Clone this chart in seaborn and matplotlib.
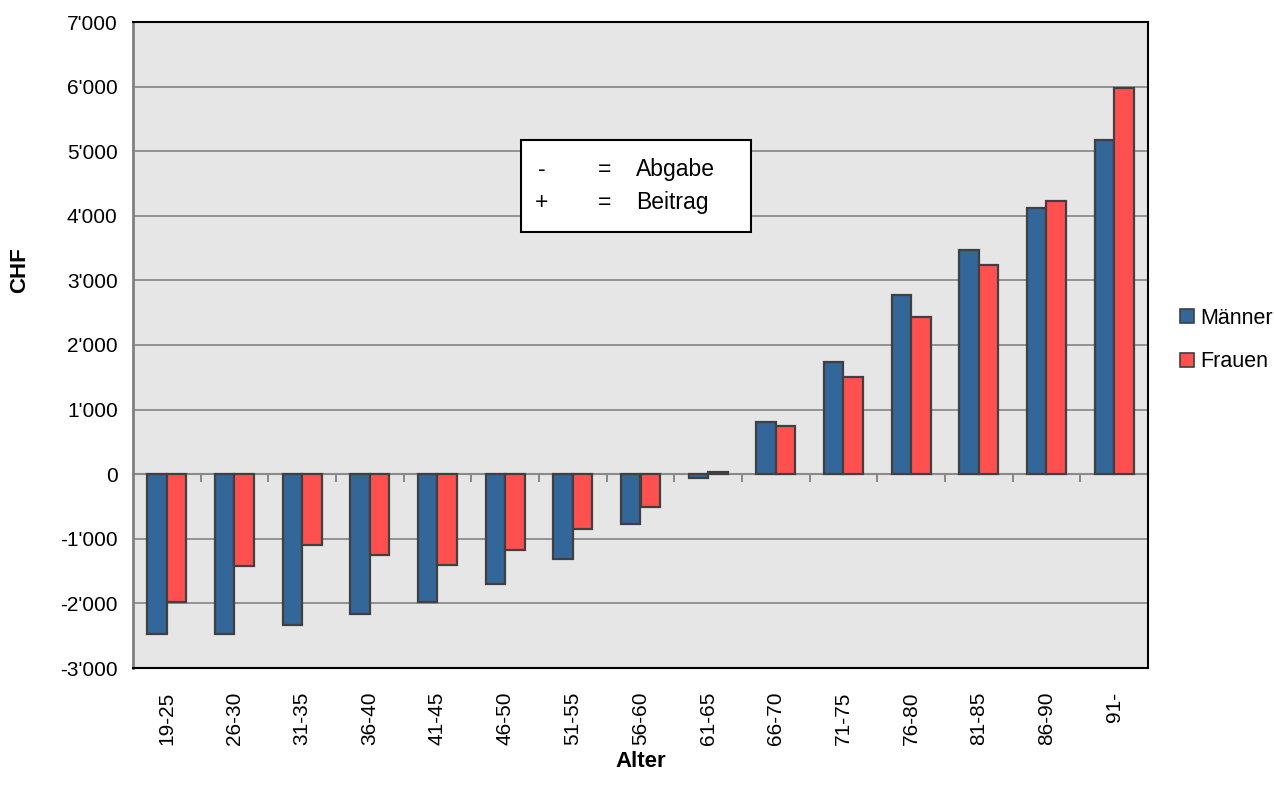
import numpy as np
import pandas as pd
import matplotlib
matplotlib.use('Agg')
import matplotlib.pyplot as plt
from matplotlib.patches import Rectangle
from matplotlib.ticker import FuncFormatter
import seaborn as sns

# data
alter = ['19-25', '26-30', '31-35', '36-40', '41-45', '46-50', '51-55', '56-60',
         '61-65', '66-70', '71-75', '76-80', '81-85', '86-90', '91-']
maenner = [-2470, -2470, -2340, -2170, -1980, -1705, -1305, -770,
           -60, 805, 1740, 2770, 3475, 4115, 5180]
frauen = [-1980, -1425, -1095, -1255, -1410, -1170, -850, -500,
          40, 740, 1500, 2430, 3245, 4230, 5980]
serien = ['Männer', 'Frauen']
farben = {'Männer': '#336699', 'Frauen': '#FF5050'}

df = pd.DataFrame({'Alter': alter * 2,
                   'CHF': maenner + frauen,
                   'Serie': ['Männer'] * len(alter) + ['Frauen'] * len(alter)})

sns.set_style('white')
plt.rcParams['font.family'] = ['Liberation Sans', 'DejaVu Sans']
plt.rcParams['text.color'] = 'black'
plt.rcParams['axes.labelcolor'] = 'black'
plt.rcParams['xtick.labelcolor'] = 'black'
plt.rcParams['ytick.labelcolor'] = 'black'

fig = plt.figure(figsize=(12.74, 7.98), dpi=100)
ax = fig.add_axes([133 / 1274, 130 / 798, 1015 / 1274, 646 / 798])
ax.set_facecolor('#E6E6E6')

sns.barplot(data=df, x='Alter', y='CHF', hue='Serie', hue_order=serien,
            palette=farben, width=0.58, edgecolor='#404040', linewidth=1.6,
            saturation=1, ax=ax, zorder=3)

ax.set_ylim(-3000, 7000)
ax.set_xlim(-0.5, len(alter) - 0.5)
ax.set_yticks(np.arange(-3000, 7001, 1000))
ax.yaxis.set_major_formatter(FuncFormatter(lambda v, p: f"{int(v):,}".replace(',', "'")))
ax.grid(axis='y', color='#8C8C8C', linewidth=1.3, zorder=0)
ax.set_axisbelow(True)

ax.tick_params(axis='y', direction='out', length=6, color='#808080', width=1.2,
               labelsize=15, pad=5)
ax.tick_params(axis='x', length=0, labelsize=15, pad=17, labelrotation=90)

for s in ['top', 'right', 'bottom']:
    ax.spines[s].set_color('black')
    ax.spines[s].set_linewidth(1.5)
ax.spines['left'].set_color('#808080')
ax.spines['left'].set_linewidth(2)

# category axis crossing at zero with tick marks between the groups
sec = ax.secondary_xaxis(0.3)
sec.set_xticks(np.arange(0.5, len(alter) - 1, 1))
sec.tick_params(axis='x', direction='out', length=6, color='#808080', width=1.3,
                labelbottom=False, labeltop=False)
for s in ['top', 'bottom']:
    sec.spines[s].set_color('#808080')
    sec.spines[s].set_linewidth(1.5)

ax.set_ylabel('CHF', fontsize=16, fontweight='bold')
ax.yaxis.set_label_coords(-0.1015, 0.616)
ax.set_xlabel('Alter', fontsize=16, fontweight='bold')
ax.xaxis.set_label_coords(0.5005, -0.128)

leg = ax.legend(loc='center left', bbox_to_anchor=(1.0235, 0.508), frameon=False,
                fontsize=15.5, handlelength=0.62, handleheight=0.62,
                handletextpad=0.3, labelspacing=1.05, borderaxespad=0)
for h in leg.legend_handles:
    h.set_edgecolor('#404040')
    h.set_linewidth(1.2)

# info box
ax.add_patch(Rectangle((0.382, 0.675), 0.2266, 0.1424, transform=ax.transAxes,
                       facecolor='white', edgecolor='black', linewidth=1.5, zorder=5))
zeilen = [('-', '=', 'Abgabe'), ('+', '=', 'Beitrag')]
for (zeichen, gleich, wort), yy in zip(zeilen, [0.771, 0.721]):
    ax.text(0.403, yy, zeichen, transform=ax.transAxes, fontsize=16.5, ha='center', va='center', zorder=6)
    ax.text(0.465, yy, gleich, transform=ax.transAxes, fontsize=16.5, ha='center', va='center', zorder=6)
    ax.text(0.4956, yy, wort, transform=ax.transAxes, fontsize=16.5, ha='left', va='center', zorder=6)

fig.savefig('out.png', dpi=100, facecolor='white')
